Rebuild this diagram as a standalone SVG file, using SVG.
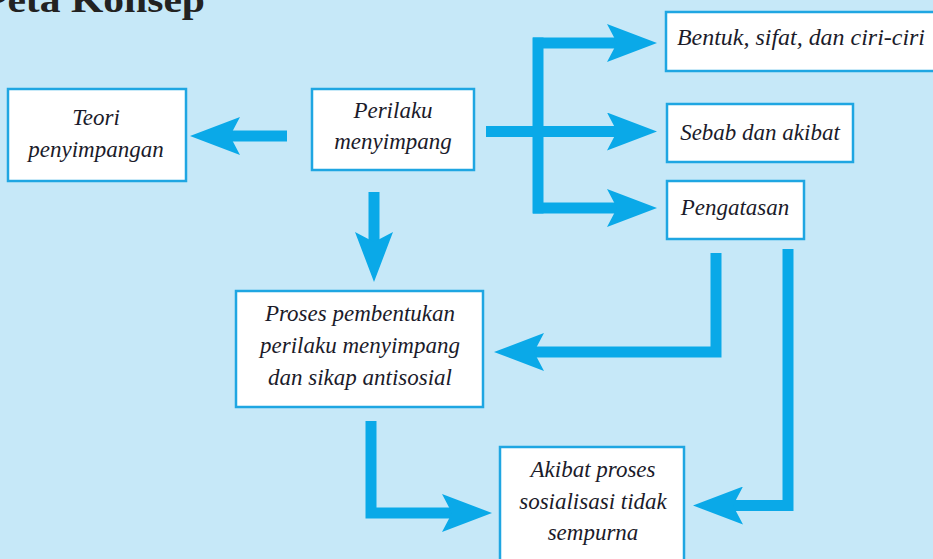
<svg xmlns="http://www.w3.org/2000/svg" width="933" height="559" viewBox="0 0 933 559">
<defs>
<style>
.box{fill:#ffffff;stroke:#1FA6E2;stroke-width:2.5}
.lbl{font-family:"Liberation Serif","Times New Roman",serif;font-style:italic;font-size:23px;fill:#1b1b2a;text-anchor:middle}
.conn{fill:none;stroke:#0AA9E8;stroke-width:11;stroke-linejoin:miter;stroke-linecap:butt}
.title{font-family:"Liberation Serif","Times New Roman",serif;font-weight:bold;font-size:36px;fill:#222222}
</style>
<marker id="head" markerUnits="userSpaceOnUse" viewBox="0 0 50 38" refX="30" refY="19" markerWidth="50" markerHeight="38" orient="auto">
<path d="M0,0 L50,19 L0,38 L10,19 Z" fill="#0AA9E8"/>
</marker>
</defs>
<rect x="0" y="0" width="933" height="559" fill="#C6E8F8"/>
<text class="title" x="-18" y="12" textLength="223" lengthAdjust="spacingAndGlyphs">Peta Konsep</text>

<g id="connectors">
<path class="conn" d="M287,136 H210" marker-end="url(#head)"/>
<path class="conn" d="M486,131.5 H637" marker-end="url(#head)"/>
<path class="conn" d="M538,37.5 V213.5"/>
<path class="conn" d="M533,43 H637" marker-end="url(#head)"/>
<path class="conn" d="M533,208 H637" marker-end="url(#head)"/>
<path class="conn" d="M374,192 V262" marker-end="url(#head)"/>
<path class="conn" d="M716,253 V352 H514" marker-end="url(#head)"/>
<path class="conn" d="M788,249 V505.5 H713" marker-end="url(#head)"/>
<path class="conn" d="M371,421 V513 H472" marker-end="url(#head)"/>
</g>

<g id="node-teori">
<rect class="box" x="8" y="89" width="178" height="92"/>
<text class="lbl" x="96" y="125">Teori</text>
<text class="lbl" x="96" y="157">penyimpangan</text>
</g>
<g id="node-perilaku">
<rect class="box" x="312" y="89" width="162" height="81"/>
<text class="lbl" x="393" y="118">Perilaku</text>
<text class="lbl" x="393" y="149">menyimpang</text>
</g>
<g id="node-bentuk">
<rect class="box" x="666" y="12" width="285" height="59"/>
<text class="lbl" x="677" y="45" style="text-anchor:start" textLength="248" lengthAdjust="spacingAndGlyphs">Bentuk, sifat, dan ciri-ciri</text>
</g>
<g id="node-sebab">
<rect class="box" x="667" y="104" width="186" height="58"/>
<text class="lbl" x="760" y="140">Sebab dan akibat</text>
</g>
<g id="node-pengatasan">
<rect class="box" x="667" y="181" width="137" height="58"/>
<text class="lbl" x="735" y="215">Pengatasan</text>
</g>
<g id="node-proses">
<rect class="box" x="236" y="291" width="247" height="116"/>
<text class="lbl" x="360" y="321">Proses pembentukan</text>
<text class="lbl" x="360" y="353">perilaku menyimpang</text>
<text class="lbl" x="360" y="385">dan sikap antisosial</text>
</g>
<g id="node-akibat">
<rect class="box" x="500" y="447" width="184" height="130"/>
<text class="lbl" x="593" y="477">Akibat proses</text>
<text class="lbl" x="593" y="509">sosialisasi tidak</text>
<text class="lbl" x="593" y="540">sempurna</text>
</g>
</svg>
